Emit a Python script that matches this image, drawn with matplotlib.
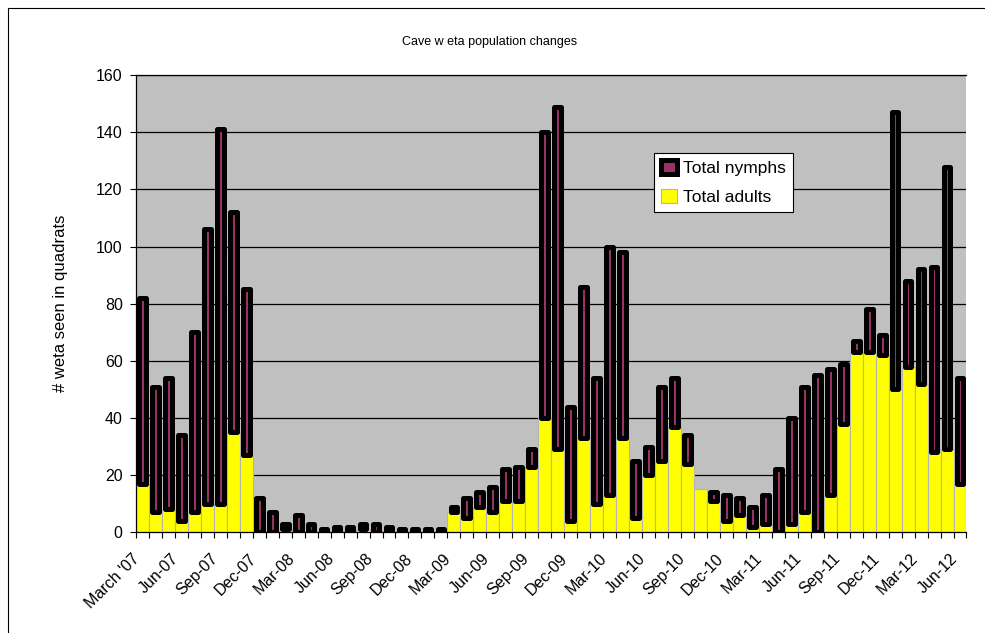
import numpy as np
import matplotlib.pyplot as plt
from matplotlib.patches import Rectangle

plt.rcParams['font.family'] = ['Liberation Sans', 'DejaVu Sans']

# monthly counts, March 2007 - June 2012
tick_labels = ["March '07", 'Jun-07', 'Sep-07', 'Dec-07',
               'Mar-08', 'Jun-08', 'Sep-08', 'Dec-08',
               'Mar-09', 'Jun-09', 'Sep-09', 'Dec-09',
               'Mar-10', 'Jun-10', 'Sep-10', 'Dec-10',
               'Mar-11', 'Jun-11', 'Sep-11', 'Dec-11',
               'Mar-12', 'Jun-12']

adults = [17, 7, 8, 4, 7, 10, 10, 35, 27, 0, 0, 1, 0, 0, 0, 0,
          0, 1, 0, 0, 0, 0, 0, 0, 7, 5, 9, 7, 11, 11, 23, 40,
          29, 4, 33, 10, 13, 33, 5, 20, 25, 37, 24, 15, 11, 4, 6, 2,
          3, 0, 3, 7, 0, 13, 38, 63, 63, 62, 50, 58, 52, 28, 29, 17]

nymphs = [65, 44, 46, 30, 63, 96, 131, 77, 58, 12, 7, 2, 6, 3, 1, 2,
          2, 2, 3, 2, 1, 1, 1, 1, 2, 7, 5, 9, 11, 12, 6, 100,
          120, 40, 53, 44, 87, 65, 20, 10, 26, 17, 10, 0, 3, 9, 6, 7,
          10, 22, 37, 44, 55, 44, 21, 4, 15, 7, 97, 30, 40, 65, 99, 37]

adults = np.array(adults)
nymphs = np.array(nymphs)
x = np.arange(len(adults))

fig = plt.figure(figsize=(9.85, 6.33), dpi=100)
ax = fig.add_axes([0.138, 0.159, 0.8432, 0.7224])
ax.set_facecolor('#c0c0c0')

ax.bar(x, adults, width=1.0, color='#ffff00', edgecolor='#b4b4b4',
       linewidth=0.8, zorder=2, label='Total adults')
has = nymphs > 0
ax.bar(x[has], nymphs[has], bottom=adults[has], width=0.52,
       color='#993366', edgecolor='black', linewidth=3.6,
       joinstyle='round', zorder=3, label='Total nymphs')

ax.set_xlim(-0.5, len(x) - 0.5)
ax.set_ylim(0, 160)
ax.set_yticks(np.arange(0, 161, 20))
ax.yaxis.grid(True, color='black', linewidth=0.9)
ax.set_axisbelow(True)

# tick marks between months, labels every third month
ax.set_xticks(np.arange(-0.5, len(x), 1))
ax.set_xticklabels([])
ax.set_xticks(np.arange(0, len(x), 3), minor=True)
ax.set_xticklabels(tick_labels, minor=True, rotation=45, ha='right',
                   va='bottom', rotation_mode='anchor', fontsize=11.5)
ax.tick_params(axis='x', which='major', direction='out', length=4,
               width=0.8, color='black')
ax.tick_params(axis='x', which='minor', length=0, pad=21)
ax.tick_params(axis='y', direction='out', length=4, width=0.8,
               labelsize=11.5, pad=5.5)

for side in ['left', 'bottom', 'top']:
    ax.spines[side].set_color('black')
    ax.spines[side].set_linewidth(0.9)
ax.spines['right'].set_visible(False)

ax.set_ylabel('# weta seen in quadrats', fontsize=12, labelpad=20)
fig.text(490 / 985, 1 - 42 / 633, 'Cave w eta population changes',
         ha='center', va='center', fontsize=9)

handles, labels = ax.get_legend_handles_labels()
leg = ax.legend(handles[::-1], labels[::-1], loc='upper left',
                bbox_to_anchor=(0.6237, 0.8294), borderaxespad=0,
                fontsize=12.5, fancybox=False, edgecolor='black',
                framealpha=1, borderpad=0.4, handlelength=0.9,
                handleheight=0.9, handletextpad=0.4, labelspacing=0.72)
leg.get_frame().set_linewidth(0.8)

# outer chart border
fig.patches.append(Rectangle((8 / 985, -0.1), 1.2, 1.1 - 8 / 633,
                             transform=fig.transFigure, fill=False,
                             edgecolor='black', linewidth=0.8))

fig.savefig('out.png', dpi=100)
